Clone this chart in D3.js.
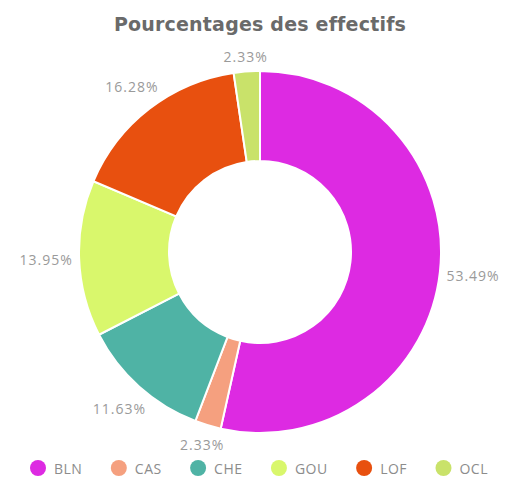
<!DOCTYPE html>
<html>
<head>
<meta charset="utf-8">
<script src="https://cdn.jsdelivr.net/npm/d3@7"></script>
<style>
  html, body { margin: 0; padding: 0; background: #fff; }
  svg { display: block; }
</style>
</head>
<body>
<svg id="chart" width="513" height="481"></svg>
<script>
// Effectifs par unité (en pourcentage du total)
const categories = ["BLN", "CAS", "CHE", "GOU", "LOF", "OCL"];
const percentages = [53.49, 2.33, 11.63, 13.95, 16.28, 2.33];
const colors = ["#dd2ae2", "#f5a07f", "#4fb3a5", "#d9f76c", "#e8500f", "#c9e26a"];
const title = "Pourcentages des effectifs";

const width = 513, height = 481;
const cx = 260, cy = 252;
const outerR = 181, innerR = 91;
const labelGap = 6;

const svg = d3.select("#chart");

svg.append("text")
  .attr("x", 260).attr("y", 31)
  .attr("text-anchor", "middle")
  .attr("font-family", "'DejaVu Sans', sans-serif")
  .attr("font-weight", "bold")
  .attr("font-size", 19)
  .attr("letter-spacing", 0.2)
  .attr("fill", "#6a6a6a")
  .text(title);

const color = d3.scaleOrdinal().domain(categories).range(colors);

const pie = d3.pie().sort(null).value(d => d.value);
const data = categories.map((c, i) => ({ name: c, value: percentages[i] }));
const arcs = pie(data);

const arc = d3.arc().innerRadius(innerR).outerRadius(outerR);

const g = svg.append("g").attr("transform", `translate(${cx},${cy})`);

g.selectAll("path.slice")
  .data(arcs)
  .join("path")
  .attr("class", "slice")
  .attr("d", arc)
  .attr("fill", d => color(d.data.name))
  .attr("stroke", "#fff")
  .attr("stroke-width", 2);

// Percentage labels placed just outside the ring, pushed out by their own size
const fmt = d => d.toFixed(2) + "%";
g.selectAll("text.val")
  .data(arcs)
  .join("text")
  .attr("class", "val")
  .attr("text-anchor", "middle")
  .attr("dominant-baseline", "central")
  .attr("font-family", "'Open Sans', sans-serif")
  .attr("font-size", 14)
  .attr("letter-spacing", 1)
  .attr("fill", "#9a9a9a")
  .text(d => fmt(d.data.value))
  .each(function(d) {
    const bb = this.getBBox();
    const a = (d.startAngle + d.endAngle) / 2;
    const sx = Math.sin(a), sy = -Math.cos(a);
    const push = Math.abs(sx) * bb.width / 2 + Math.abs(sy) * bb.height / 2.4;
    const r = outerR + labelGap + push;
    d3.select(this).attr("x", sx * r).attr("y", sy * r);
  });

// Legend
const legendY = 468;
const dotR = 8;
const textOff = 16;
const legend = svg.append("g");
const items = legend.selectAll("g.item")
  .data(categories)
  .join("g")
  .attr("class", "item");
items.append("circle")
  .attr("r", dotR)
  .attr("cx", 0).attr("cy", 0)
  .attr("fill", d => color(d));
items.append("text")
  .attr("x", textOff).attr("y", 0)
  .attr("dominant-baseline", "central")
  .attr("font-family", "'Open Sans', sans-serif")
  .attr("font-size", 14)
  .attr("letter-spacing", 0.5)
  .attr("fill", "#8c8c8c")
  .text(d => d);

const widths = [];
items.each(function() {
  widths.push(textOff + d3.select(this).select("text").node().getComputedTextLength());
});
const left = 30, right = 488;
const pad = (right - left - dotR - d3.sum(widths)) / (widths.length - 1);
let x = left + dotR;
items.each(function(d, i) {
  d3.select(this).attr("transform", `translate(${x},${legendY})`);
  x += widths[i] + pad;
});
</script>
</body>
</html>
